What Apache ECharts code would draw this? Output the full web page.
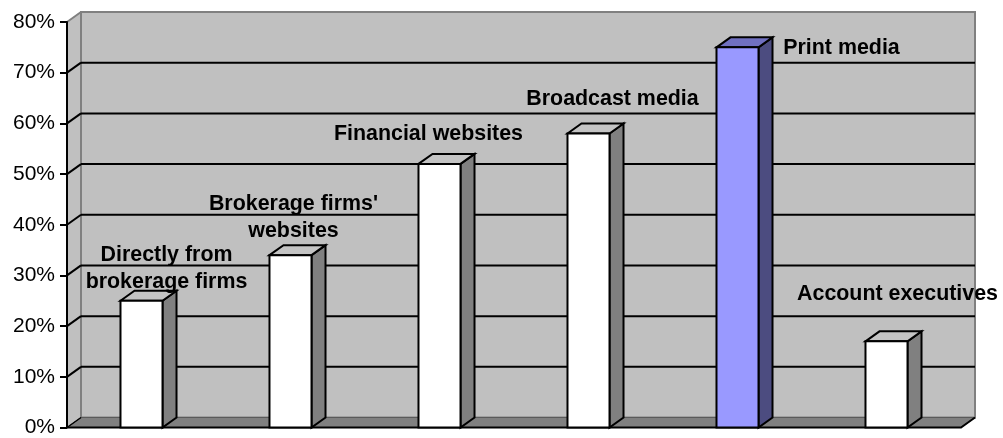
<!DOCTYPE html>
<html>
<head>
<meta charset="utf-8">
<script src="https://cdn.jsdelivr.net/npm/echarts@6/dist/echarts.min.js"></script>
<style>
  html, body { margin: 0; padding: 0; background: #ffffff; }
  #chart { width: 1003px; height: 438px; }
</style>
</head>
<body>
<div id="chart"></div>
<script>
// Where investors get their information, share of respondents
const categories = [
  "Directly from\nbrokerage firms",
  "Brokerage firms'\nwebsites",
  "Financial websites",
  "Broadcast media",
  "Print media",
  "Account executives"
];
const shares = [0.25, 0.34, 0.52, 0.58, 0.75, 0.17];
const tickValues = [0, 0.1, 0.2, 0.3, 0.4, 0.5, 0.6, 0.7, 0.8];
const highlightIndex = 4;

// label placement relative to the top-centre of each column (px)
const labelShift = [[25, -32], [3, -38], [-11, -30], [24, -34], [104, 1], [11, -47]];

// depth of the 3-D box (px)
const DX = 14, DY = -10;
const FONT = '"Liberation Sans", Arial, Helvetica, sans-serif';

const chart = echarts.init(document.getElementById('chart'), null, { renderer: 'canvas' });

function renderWalls(params, api) {
  const cs = params.coordSys;
  const L = cs.x, T = cs.y, R = cs.x + cs.width, B = cs.y + cs.height;
  const kids = [];
  // side wall
  kids.push({ type: 'polygon', shape: { points: [[L, T], [L + DX, T + DY], [L + DX, B + DY], [L, B]] },
    style: { fill: '#c0c0c0', stroke: null } });
  // back wall
  kids.push({ type: 'rect', shape: { x: L + DX, y: T + DY, width: R - L, height: B - T },
    style: { fill: '#c0c0c0', stroke: '#808080', lineWidth: 2 } });
  // side wall top edge
  kids.push({ type: 'line', shape: { x1: L, y1: T, x2: L + DX, y2: T + DY },
    style: { stroke: '#808080', lineWidth: 2 } });
  // floor
  kids.push({ type: 'polygon', shape: { points: [[L, B], [R, B], [R + DX, B + DY], [L + DX, B + DY]] },
    style: { fill: '#808080', stroke: '#5a5a5a', lineWidth: 1 } });
  kids.push({ type: 'polyline', shape: { points: [[L, B], [R, B], [R + DX, B + DY]] },
    style: { stroke: '#000000', lineWidth: 2, fill: null } });
  kids.push({ type: 'line', shape: { x1: L, y1: B, x2: L + DX, y2: B + DY },
    style: { stroke: '#000000', lineWidth: 1.5 } });
  // gridlines on the back and side walls
  tickValues.forEach(function (t) {
    if (t <= 0 || t >= 0.8) return;
    const y = api.coord([0, t])[1];
    kids.push({ type: 'line', shape: { x1: L + DX, y1: y + DY, x2: R + DX, y2: y + DY },
      style: { stroke: '#000000', lineWidth: 2 } });
    kids.push({ type: 'line', shape: { x1: L, y1: y, x2: L + DX, y2: y + DY },
      style: { stroke: '#000000', lineWidth: 2 } });
  });
  return { type: 'group', children: kids };
}

function renderColumn(params, api) {
  const i = api.value(0);
  const v = api.value(1);
  const top = api.coord([i, v]);
  const base = api.coord([i, 0]);
  const w = api.size([1, 0])[0] * 0.282;
  const x0 = top[0] - w / 2, x1 = top[0] + w / 2;
  const yt = top[1], yb = base[1];
  const hi = i === highlightIndex;
  const front = hi ? '#9999ff' : '#ffffff';
  const side = hi ? '#4c4c80' : '#808080';
  const cap = hi ? '#7070c0' : '#c4c4c4';
  const edge = { stroke: '#000000', lineWidth: 2, lineJoin: 'miter' };
  const sh = labelShift[i];
  return {
    type: 'group',
    children: [
      { type: 'polygon', shape: { points: [[x1, yt], [x1 + DX, yt + DY], [x1 + DX, yb + DY], [x1, yb]] },
        style: Object.assign({ fill: side }, edge) },
      { type: 'polygon', shape: { points: [[x0, yt], [x0 + DX, yt + DY], [x1 + DX, yt + DY], [x1, yt]] },
        style: Object.assign({ fill: cap }, edge) },
      { type: 'rect', shape: { x: x0, y: yt, width: w, height: yb - yt },
        style: Object.assign({ fill: front }, edge) },
      { type: 'text', z2: 10,
        style: { text: categories[i], x: top[0] + sh[0], y: yt + sh[1],
          align: 'center', verticalAlign: 'middle',
          font: 'bold 21.4px ' + FONT, lineHeight: 27, fill: '#000000' } }
    ]
  };
}

chart.setOption({
  backgroundColor: '#ffffff',
  animation: false,
  grid: { left: 67, right: 42, top: 22, bottom: 6 },
  xAxis: {
    type: 'category',
    data: categories,
    axisLine: { show: false },
    axisTick: { show: false },
    axisLabel: { show: false },
    splitLine: { show: false }
  },
  yAxis: {
    type: 'value',
    min: 0, max: 0.8, interval: 0.1,
    z: 10,
    axisLine: { show: true, lineStyle: { color: '#000000', width: 2 } },
    axisTick: { show: true, length: 7, lineStyle: { color: '#000000', width: 2 } },
    axisLabel: {
      color: '#000000', fontSize: 21, fontFamily: FONT, margin: 12,
      formatter: function (val) { return Math.round(val * 100) + '%'; }
    },
    splitLine: { show: false }
  },
  series: [
    { type: 'custom', z: 1, silent: true, renderItem: renderWalls, data: [[0, 0]] },
    { type: 'custom', z: 3, renderItem: renderColumn,
      data: shares.map(function (s, i) { return [i, s]; }) }
  ]
});
</script>
</body>
</html>
